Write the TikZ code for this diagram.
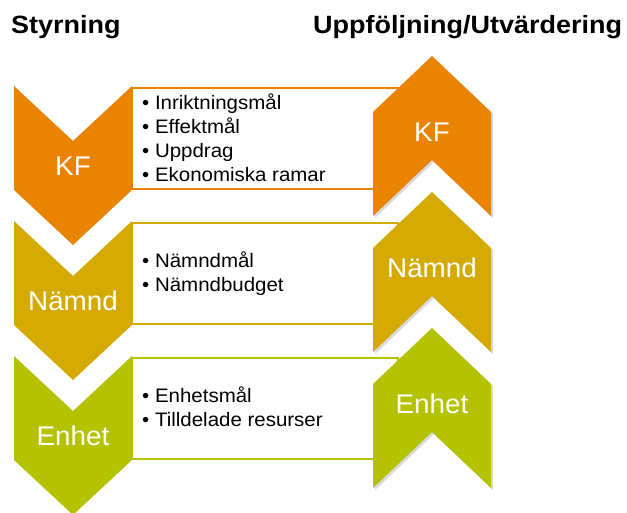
\documentclass[tikz,border=0pt]{standalone}
\usepackage{fontspec}
\setmainfont{Liberation Sans}
\definecolor{kfcol}{RGB}{233,131,0}
\definecolor{nmcol}{RGB}{212,170,0}
\definecolor{encol}{RGB}{181,194,0}
\newcommand\hstretch[2]{\scalebox{#1}[1]{#2}}
\newcommand\chevdown[2]{% color, top
  \fill[#1] (14,#2) -- (73,#2+55) -- (132,#2) -- (132,#2+104) -- (73,#2+159) -- (14,#2+104) -- cycle;}
\newcommand\chevup[2]{% color, tip
  \fill[black,opacity=0.15] (434,#2+2) -- (493,#2+58) -- (493,#2+162) -- (434,#2+106) -- (375,#2+162) -- (375,#2+58) -- cycle;
  \fill[#1] (432,#2) -- (491,#2+56) -- (491,#2+160) -- (432,#2+104) -- (373,#2+160) -- (373,#2+56) -- cycle;}
\tikzset{
  title/.style={font=\bfseries\fontsize{25}{30}\selectfont, anchor=base west, inner sep=0pt},
  lbl/.style={font=\fontsize{27}{32}\selectfont, text=white, anchor=base, inner sep=0pt},
  item/.style={font=\fontsize{19.5}{24}\selectfont, anchor=base west, inner sep=0pt},
  listbox/.style={draw=#1, line width=2pt, fill=white, anchor=north west, minimum width=266pt, minimum height=101pt, inner sep=0pt, outer sep=0pt},
}
\begin{document}
\begin{tikzpicture}[x=1pt,y=-1pt]
\useasboundingbox (0,0) rectangle (627,512);
% titles
\node[title] (tstyr) at (11,33) {\hstretch{1.08}{Styrning}};
\node[title] (tupp) at (313,33) {\hstretch{1.08}{Uppföljning/Utvärdering}};
% boxes
\node[listbox=kfcol] (kfbox) at (132,88) {};
\node[listbox=nmcol] (nmbox) at (132,223) {};
\node[listbox=encol] (enbox) at (132,358) {};
% left chevrons
\chevdown{kfcol}{86}
\chevdown{nmcol}{221}
\chevdown{encol}{356}
% right chevrons
\chevup{kfcol}{56}
\chevup{nmcol}{192}
\chevup{encol}{328}
% labels
\node[lbl] (kfl) at (73,175) {\hstretch{1.03}{KF}};
\node[lbl] (nml) at (73,310) {\hstretch{1.03}{Nämnd}};
\node[lbl] (enl) at (73,445) {\hstretch{1.03}{Enhet}};
\node[lbl] (kfr) at (432,141) {\hstretch{1.03}{KF}};
\node[lbl] (nmr) at (432,277) {\hstretch{1.03}{Nämnd}};
\node[lbl] (enr) at (432,413) {\hstretch{1.03}{Enhet}};
% items
\node[item] (kf1) at (142,109) {\hstretch{1.05}{• Inriktningsmål}};
\node[item] (kf2) at (142,133) {\hstretch{1.05}{• Effektmål}};
\node[item] (kf3) at (142,157) {\hstretch{1.05}{• Uppdrag}};
\node[item] (kf4) at (142,181) {\hstretch{1.05}{• Ekonomiska ramar}};
\node[item] (nm1) at (142,267) {\hstretch{1.05}{• Nämndmål}};
\node[item] (nm2) at (142,291) {\hstretch{1.05}{• Nämndbudget}};
\node[item] (en1) at (142,402) {\hstretch{1.05}{• Enhetsmål}};
\node[item] (en2) at (142,426) {\hstretch{1.05}{• Tilldelade resurser}};
\end{tikzpicture}
\end{document}
